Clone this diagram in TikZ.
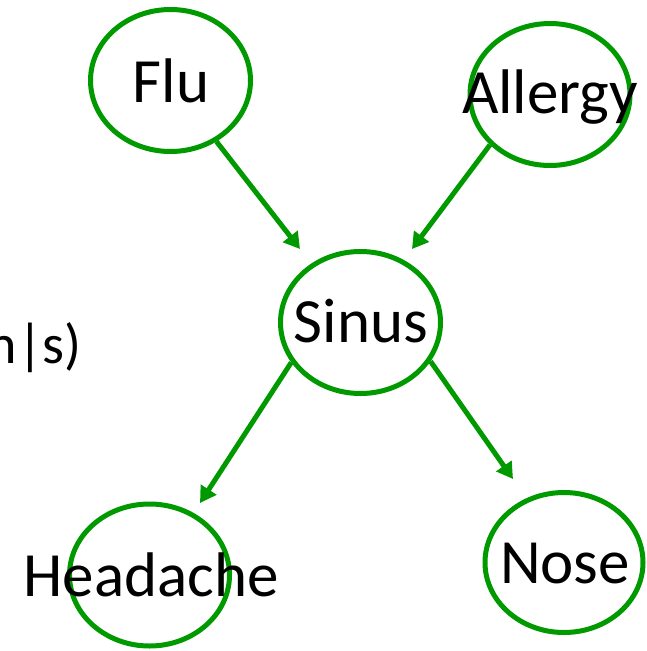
\documentclass[tikz,border=0pt]{standalone}
\usepackage{fontspec}
\setmainfont{Carlito}
\usetikzlibrary{shapes.geometric,arrows.meta}
\definecolor{nodegreen}{RGB}{0,153,0}
\tikzset{
  var/.style={ellipse, draw=nodegreen, line width=5pt, minimum width=160pt, minimum height=142pt, inner sep=0pt},
  lbl/.style={anchor=base, inner sep=0pt, font=\fontsize{63}{75}\selectfont},
  edge/.style={draw=nodegreen, line width=5pt, -{Triangle[length=16pt,width=18pt]}}
}
\begin{document}
\begin{tikzpicture}[x=1pt,y=-1pt]
\useasboundingbox (0,0) rectangle (647,651);
\clip (0,0) rectangle (647,651);
% ellipses
\node[var] (flu) at (170.5,80.5) {};
\node[var] (allergy) at (550,94.5) {};
\node[var] (sinus) at (360.5,322.5) {};
\node[var] (headache) at (149.5,575) {};
\node[var, minimum width=158pt, minimum height=140pt] (nose) at (564,562.5) {};
% labels
\node[lbl] (flut) at (171,102) {Flu};
\node[lbl] (allergyt) at (550,113) {Allergy};
\node[lbl] (sinust) at (361,342) {Sinus};
\node[lbl] (headachet) at (151,596) {Headache};
\node[lbl] (noset) at (565,583) {Nose};
\node[anchor=base east, inner sep=0pt, font=\fontsize{56}{67}\selectfont] (cond) at (82,363) {n|s)};
% arrow tips
\coordinate (t1) at (300,249);
\coordinate (t2) at (412,249);
\coordinate (t3) at (200,503);
\coordinate (t4) at (513,479);
\draw[edge] (flu.-53.4) -- (t1);
\draw[edge] (allergy.220) -- (t2);
\draw[edge] (sinus.210.3) -- (t3);
\draw[edge] (sinus.-29.9) -- (t4);
\end{tikzpicture}
\end{document}
